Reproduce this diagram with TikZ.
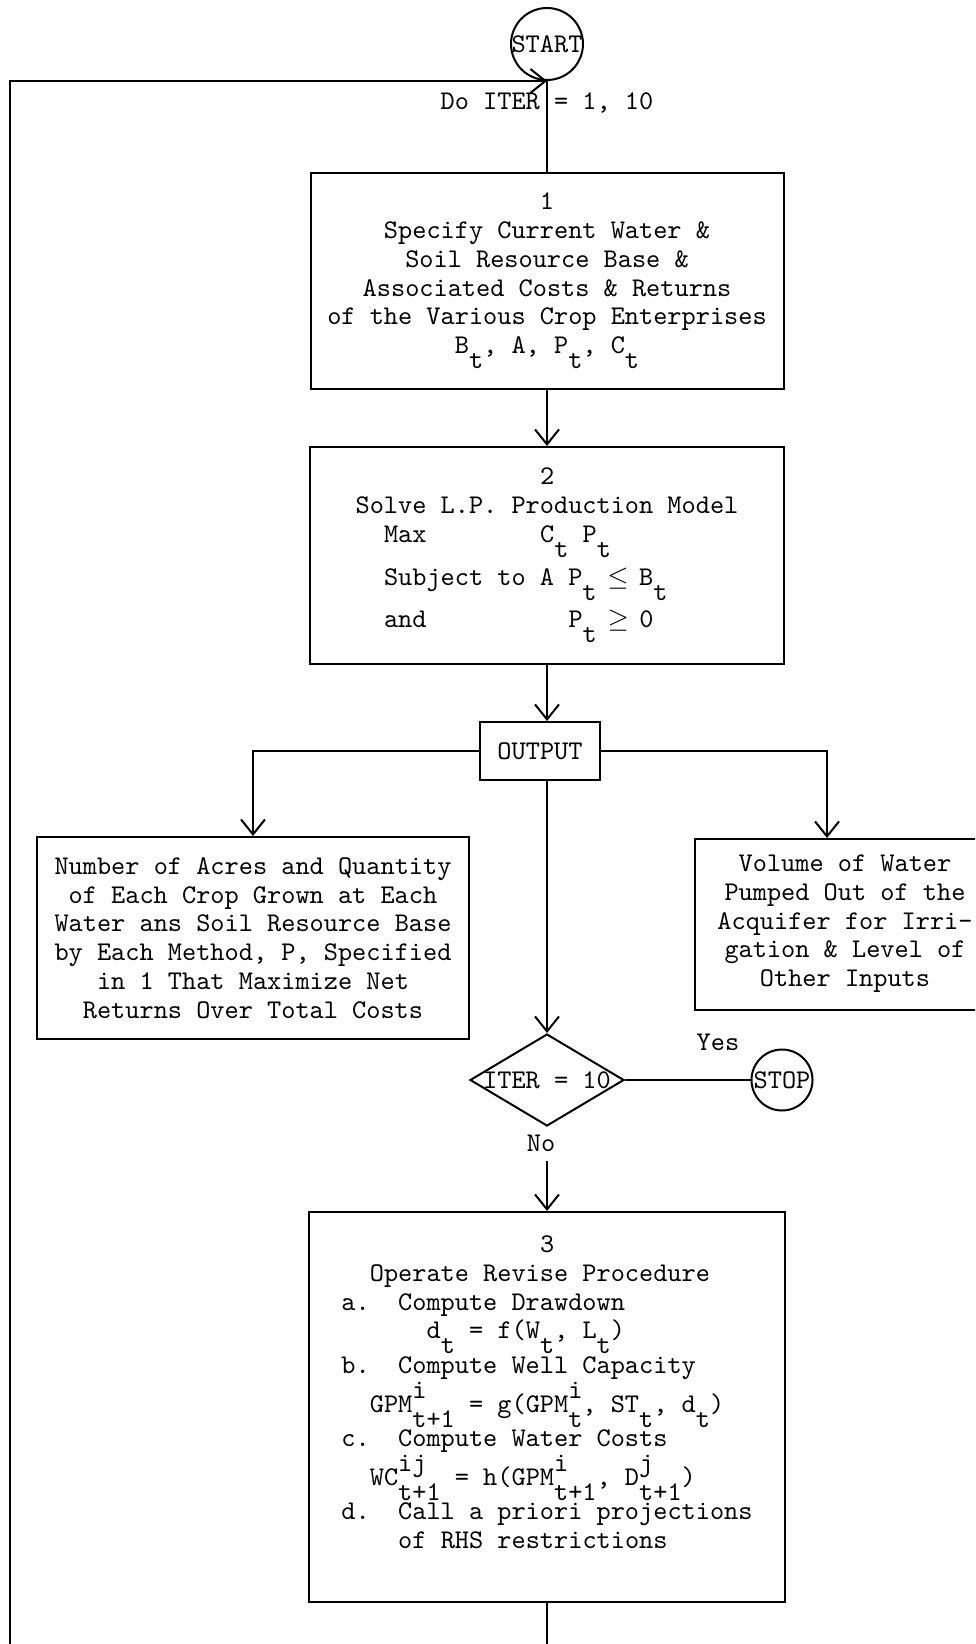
\documentclass[tikz,border=0pt]{standalone}
\usepackage{amssymb}
\usepackage{amsmath}
\usepackage{tikz}
\usetikzlibrary{arrows.meta,shapes.geometric}

\newlength{\colw}
\setlength{\colw}{5.68pt}
\newcommand{\gap}[1]{\hspace*{#1\colw}}
\newcommand{\tdown}[1]{\raisebox{-6pt}{#1}}
\newcommand{\tup}[1]{\raisebox{5.5pt}{#1}}

\begin{document}
\begin{tikzpicture}[x=0.4pt, y=-0.4pt, line width=0.8pt,
  every node/.style={font=\fontsize{10.8}{11.5}\selectfont\ttfamily},
  box/.style={draw, rectangle, inner sep=0pt},
  arr/.style={-{Straight Barb[length=6pt,width=9.6pt]}}]
\useasboundingbox (0,0) rectangle (975,1644);
\clip (0,0) rectangle (975,1644);

\node[draw, circle, minimum size=28.8pt, inner sep=0pt] (start) at (547,44) {\makebox[0pt]{START}};
\node (doiter) at (547,103) {Do ITER = 1, 10};
\node[box, minimum width=189.2pt, minimum height=86.4pt, align=center] (specify) at (547,281)
  {1\\Specify Current Water \&\\Soil Resource Base \&\\Associated Costs \& Returns\\of the Various Crop Enterprises\\B\tdown{t}, A, P\tdown{t}, C\tdown{t}};
\node[box, minimum width=189.6pt, minimum height=86.8pt, align=left] (solve) at (547,555.5)
  {\gap{13}2\\Solve L.P. Production Model\\
   \gap{2}Max\gap{8}C\tdown{t} P\tdown{t}\\[3pt]
   \gap{2}Subject to A P\tdown{t} \makebox[\colw]{$\leq$} B\tdown{t}\\[3pt]
   \gap{2}and\gap{10}P\tdown{t} \makebox[\colw]{$\geq$} 0};
\node[box, minimum width=48pt, minimum height=23.2pt] (output) at (540,751) {OUTPUT};
\node[box, minimum width=173pt, minimum height=80.8pt, align=center] (acres) at (253,938)
  {Number of Acres and Quantity\\of Each Crop Grown at Each\\Water ans Soil Resource Base\\by Each Method, P, Specified\\in 1 That Maximize Net\\Returns Over Total Costs};
\node[box, minimum width=120pt, minimum height=68.4pt, align=center] (volume) at (845,924.5)
  {Volume of Water\\Pumped Out of the\\Acquifer for Irri-\\gation \& Level of\\Other Inputs\rule[-3pt]{0pt}{3pt}};
\node[draw, diamond, minimum width=61.6pt, minimum height=36.8pt, inner sep=0pt] (iter) at (547,1080) {\makebox[0pt]{ITER = 10}};
\node[draw, circle, minimum size=24.4pt, inner sep=0pt] (stop) at (782,1080) {\makebox[0pt]{STOP}};
\node (yes) at (718,1042) {Yes};
\node (no) at (541,1143) {No};
\node[box, minimum width=190.4pt, minimum height=156pt, align=left] (revise) at (547,1407)
  {\gap{14}3\\
   \gap{2}Operate Revise Procedure\\
   a.\gap{2}Compute Drawdown\\
   \gap{6}d\tdown{t} = f(W\tdown{t}, L\tdown{t})\\
   b.\gap{2}Compute Well Capacity\\
   \gap{2}GPM\rlap{\tup{i}}\tdown{t+1} = g(GPM\rlap{\tup{i}}\tdown{t}, ST\tdown{t}, d\tdown{t})\\
   c.\gap{2}Compute Water Costs\\
   \gap{2}WC\rlap{\tup{ij}}\tdown{t+1} = h(GPM\rlap{\tup{i}}\tdown{t+1}, D\rlap{\tup{j}}\tdown{t+1})\\
   d.\gap{2}Call a priori projections\\
   \gap{4}of RHS restrictions\rule[-12pt]{0pt}{12pt}};

\coordinate (rturn) at (827,751);
\coordinate (lowleft) at (10,1690);

\draw (start.south) -- (specify.north);
\draw[arr] (specify) -- (solve);
\draw[arr] (solve) -- (solve |- output.north);
\draw[arr] (output.west) -| (acres.north);
\draw[arr] (output.east) -- (rturn) -- (rturn |- volume.north);
\draw[arr] (output.south -| iter) -- (iter.north);
\draw (iter.east) -- (stop.west);
\draw[arr] (no.south -| revise) -- (revise.north);
\draw[arr] (revise.south) -- (revise.south |- lowleft) -- (lowleft) |- (start.south);
\end{tikzpicture}
\end{document}
